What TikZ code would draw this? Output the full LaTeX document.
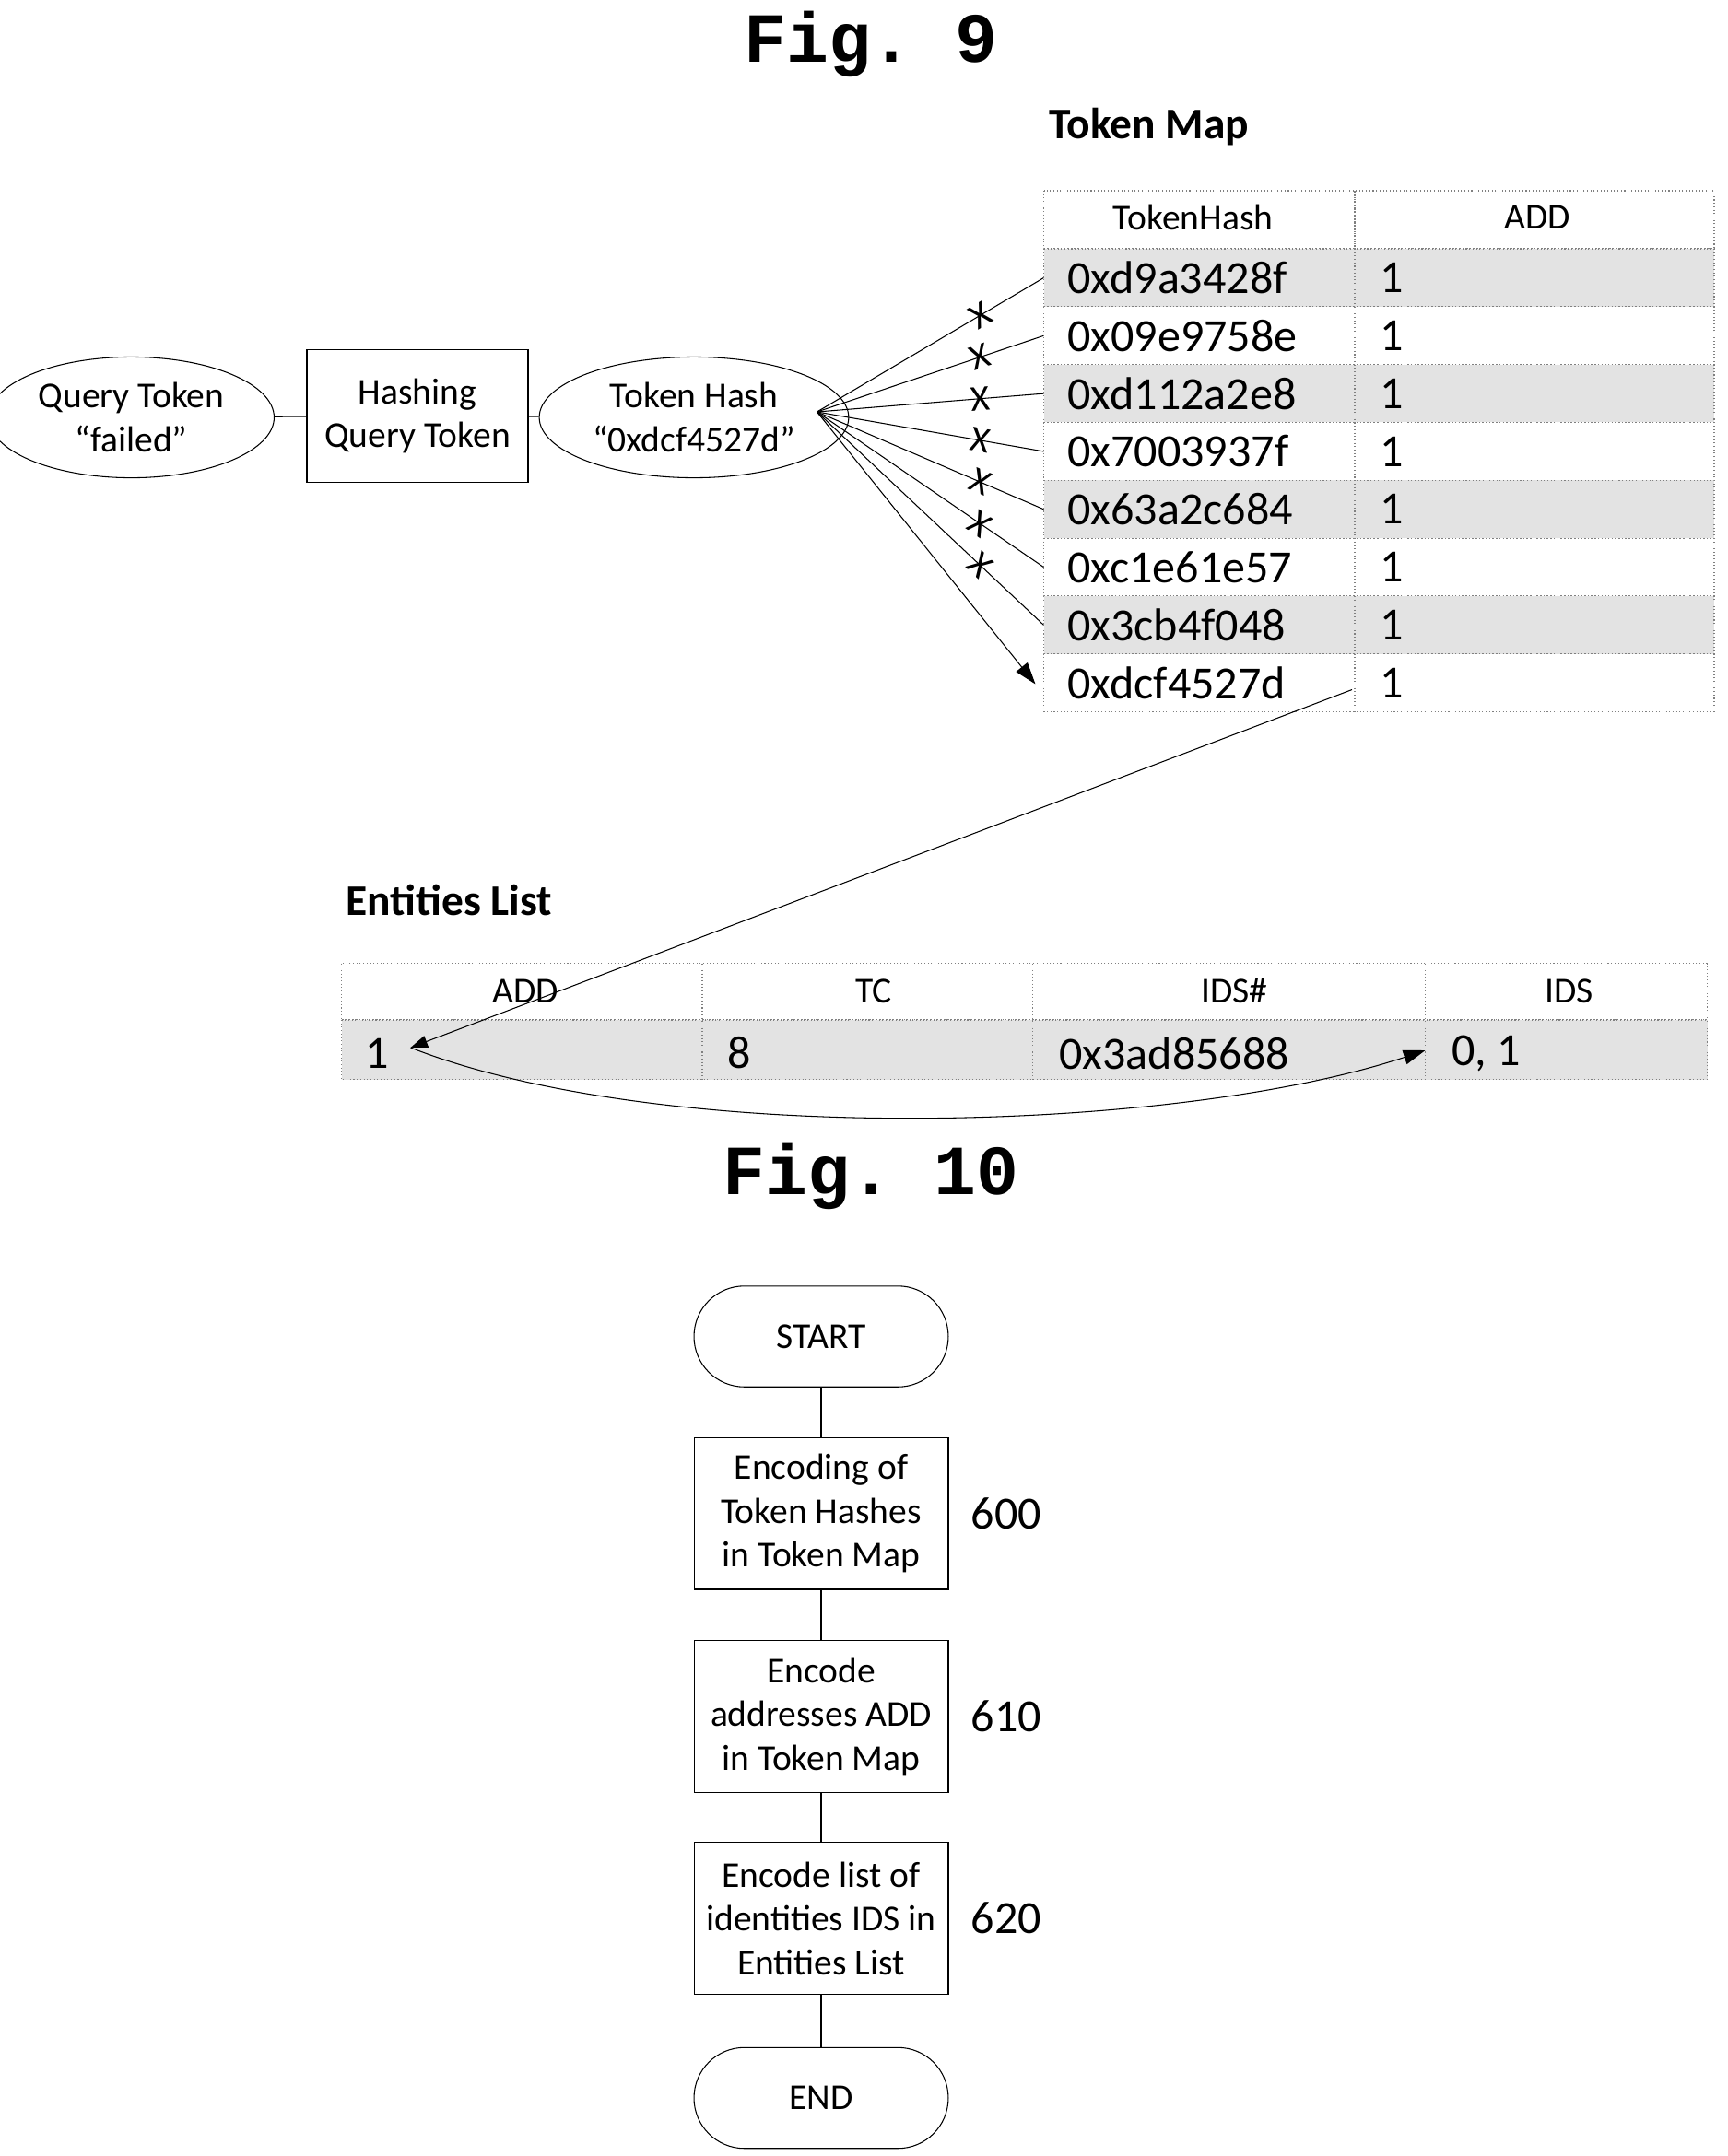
\documentclass[tikz,border=0pt]{standalone}
\usepackage{fontspec}
\setmainfont{Carlito}
\newfontfamily\figfont{Liberation Mono}
\usetikzlibrary{arrows.meta,shapes.geometric}

\tikzset{
  lbl/.style={font=\fontsize{15}{18}\selectfont},
  hex/.style={font=\fontsize{19}{22}\selectfont},
  cell/.style={draw=gray,densely dotted},
  shade/.style={cell,fill=gray!22},
  oval/.style={draw,ellipse,lbl,align=center,minimum width=3.2cm,minimum height=1.5cm},
  box/.style={draw,lbl,align=center,minimum width=3.68cm,minimum height=2.2cm},
  term/.style={draw,rounded corners=0.73cm,lbl,minimum width=3.68cm,minimum height=1.46cm},
  figttl/.style={font=\figfont\bfseries\fontsize{29}{32}\selectfont},
  ttl/.style={font=\bfseries\fontsize{18}{21}\selectfont}
}

\begin{document}
\begin{tikzpicture}[x=0.02cm,y=-0.02cm]
  \useasboundingbox (0,0) rectangle (1250,1560);

  \node[figttl] at (630,32) {Fig.\ 9};
  \node[ttl] at (831,92) {Token Map};
  \node[ttl] at (325,651) {Entities List};

  % token map
  \def\tmrow{41.875}
  \draw[cell] (755,138) rectangle (980,180);
  \draw[cell] (980,138) rectangle (1240,180);
  \node[lbl] at (863,157) {TokenHash};
  \node[lbl] at (1112,157) {ADD};
  \foreach \h [count=\k from 0] in {0xd9a3428f,0x09e9758e,0xd112a2e8,0x7003937f,0x63a2c684,0xc1e61e57,0x3cb4f048,0xdcf4527d}{
    \pgfmathparse{int(mod(\k,2))}
    \ifnum\pgfmathresult=0
      \draw[shade] (755,180+\k*\tmrow) rectangle (1240,180+\k*\tmrow+\tmrow);
    \else
      \draw[cell] (755,180+\k*\tmrow) rectangle (1240,180+\k*\tmrow+\tmrow);
    \fi
    \draw[cell] (980,180+\k*\tmrow) -- (980,180+\k*\tmrow+\tmrow);
    \node[hex,anchor=west] (h\k) at (766,201+\k*\tmrow) {\h};
    \node[hex,anchor=west] (a\k) at (992,201+\k*\tmrow) {1};
    \coordinate (e\k) at (755,201+\k*\tmrow);
  }

  % entities list
  \draw[cell] (247,697) rectangle (1235,738);
  \draw[shade] (247,738) rectangle (1235,781);
  \foreach \x in {508,747,1031}
    \draw[cell] (\x,697) -- (\x,781);
  \node[lbl] at (380,717) {ADD};
  \node[lbl] at (632,717) {TC};
  \node[lbl] at (893,717) {IDS\#};
  \node[lbl] at (1135,717) {IDS};
  \node[hex,anchor=west] (eadd) at (258,762) {1};
  \node[hex,anchor=west] (etc) at (520,762) {8};
  \node[hex,anchor=west] (eidh) at (760,762) {0x3ad85688};
  \node[hex,anchor=west] (eids) at (1044,762) {0, 1};
  \coordinate (pin) at (297,758);
  \coordinate (pout) at (1031,760);
  \coordinate (tmout) at (978,499);

  % query chain
  \node[oval] (qt) at (95,302) {Query Token\\“failed”};
  \node[draw,lbl,align=center,minimum width=3.2cm,minimum height=1.92cm] (hq) at (302,301) {Hashing\\Query Token};
  \node[oval,minimum width=3.5cm] (th) at (502,302) {Token Hash\\“0xdcf4527d”};
  \draw (qt) -- (hq);
  \draw (hq) -- (th);

  \coordinate (fan) at (591,298);
  \foreach \k in {0,...,6}{
    \draw (fan) -- (e\k) node[pos=0.72,sloped,lbl,inner sep=0]{\rotatebox{0}{X}};
  }
  \draw[-{Triangle[length=9pt,width=6pt]}] (fan) -- (749,495);
  \draw[-{Triangle[length=7pt,width=5pt]}] (tmout) -- (pin);
  \draw[-{Triangle[length=9pt,width=6pt]}] (pin) .. controls (480,830) and (850,820) .. (pout);

  % fig 10
  \node[figttl] at (630,851) {Fig.\ 10};
  \node[term] (start) at (594,967) {START};
  \node[box] (s600) at (594,1095) {Encoding of\\Token Hashes\\in Token Map};
  \node[box] (s610) at (594,1242) {Encode\\addresses ADD\\in Token Map};
  \node[box] (s620) at (594,1388) {Encode list of\\identities IDS in\\Entities List};
  \node[term] (end) at (594,1518) {END};
  \draw (start) -- (s600);
  \draw (s600) -- (s610);
  \draw (s610) -- (s620);
  \draw (s620) -- (end);
  \node[font=\fontsize{19}{22}\selectfont] at (728,1095) {600};
  \node[font=\fontsize{19}{22}\selectfont] at (728,1242) {610};
  \node[font=\fontsize{19}{22}\selectfont] at (728,1388) {620};
\end{tikzpicture}
\end{document}
